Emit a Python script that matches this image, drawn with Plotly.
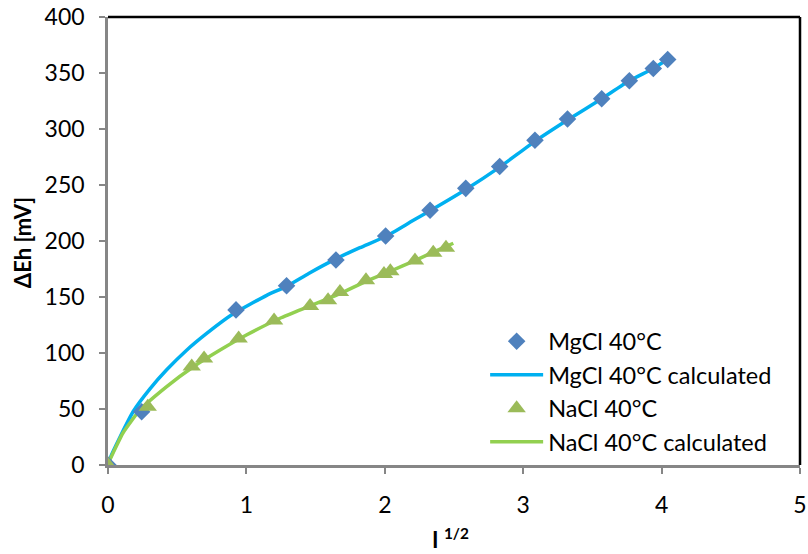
import plotly.graph_objects as go

# Measured data (diamonds)
mg_x = [0, 0.243, 0.925, 1.29, 1.647, 2.006, 2.327, 2.585, 2.83, 3.085, 3.32, 3.567, 3.767, 3.94, 4.044]
mg_y = [0, 47.5, 138.5, 160, 183, 204.5, 227.5, 247, 266.5, 290, 309, 327, 343, 354, 362]

# Calculated MgCl curve
mgc_x = [0, 0.015, 0.087, 0.183, 0.303, 0.424, 0.568, 0.713, 0.905, 1.147, 1.29, 1.45, 1.647,
         1.82, 2.006, 2.2, 2.327, 2.585, 2.83, 3.085, 3.32, 3.567, 3.767, 3.94, 4.04]
mgc_y = [0, 6, 25, 48, 68, 85, 102.5, 117.5, 135, 151.5, 159.5, 171, 184,
         194, 204, 218, 227, 246, 266, 289, 308, 327, 343, 354, 362]

# Measured NaCl data (triangles)
na_x = [0, 0.287, 0.605, 0.694, 0.944, 1.20, 1.46, 1.59, 1.676, 1.864, 1.994, 2.04, 2.218, 2.35, 2.442]
na_y = [0, 52, 88, 95, 113, 129, 142, 147, 154.5, 165, 170.5, 173, 182.5, 189.5, 194]

# Calculated NaCl curve
nac_x = [0, 0.015, 0.11, 0.23, 0.424, 0.617, 0.81, 1.0, 1.243, 1.46, 1.676, 1.864, 2.04, 2.218, 2.35, 2.495]
nac_y = [0, 5, 29, 49, 70, 87.7, 102.6, 116, 131, 142, 153, 164, 173, 182.5, 190, 198]

FONT = "Lato"

fig = go.Figure()
fig.add_trace(go.Scatter(x=mgc_x, y=mgc_y, mode="lines", name="MgCl 40°C calculated",
                         legendrank=2,
                         line=dict(color="#00B0F0", width=3.5, shape="spline", smoothing=0.5)))
fig.add_trace(go.Scatter(x=nac_x, y=nac_y, mode="lines", name="NaCl 40°C calculated",
                         legendrank=4,
                         line=dict(color="#92D050", width=3.5, shape="spline", smoothing=0.5)))
fig.add_trace(go.Scatter(x=mg_x, y=mg_y, mode="markers", name="MgCl 40°C",
                         legendrank=1,
                         marker=dict(symbol="diamond", size=13.5, color="#4F81BD")))
fig.add_trace(go.Scatter(x=na_x, y=na_y, mode="markers", name="NaCl 40°C",
                         legendrank=3,
                         marker=dict(symbol="triangle-up", size=16, color="#9BBB59")))

fig.update_layout(
    width=808, height=554,
    margin=dict(l=108, r=8, t=17, b=89),
    paper_bgcolor="white", plot_bgcolor="white",
    font=dict(family=FONT, size=23, color="black"),
    showlegend=True,
    legend=dict(x=0.545, y=0.325, xanchor="left", yanchor="top",
                bgcolor="rgba(0,0,0,0)", font=dict(family=FONT, size=23.5),
                traceorder="normal", itemwidth=53),
    xaxis=dict(range=[0, 5], dtick=1, showgrid=False, zeroline=False, automargin=False,
               showline=True, linecolor="#868686", linewidth=2.5,
               ticks="outside", ticklen=6, tickcolor="#868686", tickwidth=2,
               ticklabelstandoff=12, tickfont=dict(size=23)),
    yaxis=dict(range=[0, 400], dtick=50, showgrid=False, zeroline=False, automargin=False,
               showline=True, linecolor="#868686", linewidth=2.5,
               ticks="outside", ticklen=6, tickcolor="#868686", tickwidth=2,
               ticklabelstandoff=10, tickfont=dict(size=23)),
    shapes=[
        dict(type="line", xref="paper", yref="paper", x0=0, x1=1, y0=1, y1=1,
             line=dict(color="black", width=2.5)),
        dict(type="line", xref="paper", yref="paper", x0=1, x1=1, y0=0, y1=1,
             line=dict(color="black", width=2.5)),
    ],
    annotations=[
        dict(text="<b>I <sup>1/2</sup></b>", xref="paper", yref="paper", x=0.495, y=-0.163,
             xanchor="center", yanchor="middle", showarrow=False, font=dict(size=22)),
        dict(text="<b>ΔEh [mV]</b>", xref="paper", yref="paper", x=-0.124, y=0.4955,
             xanchor="center", yanchor="middle", textangle=-90, showarrow=False,
             font=dict(size=22)),
    ],
)

fig.write_html("out.html", config={"displayModeBar": False},
               post_script="document.body.style.margin='0';document.body.style.overflow='hidden';")
